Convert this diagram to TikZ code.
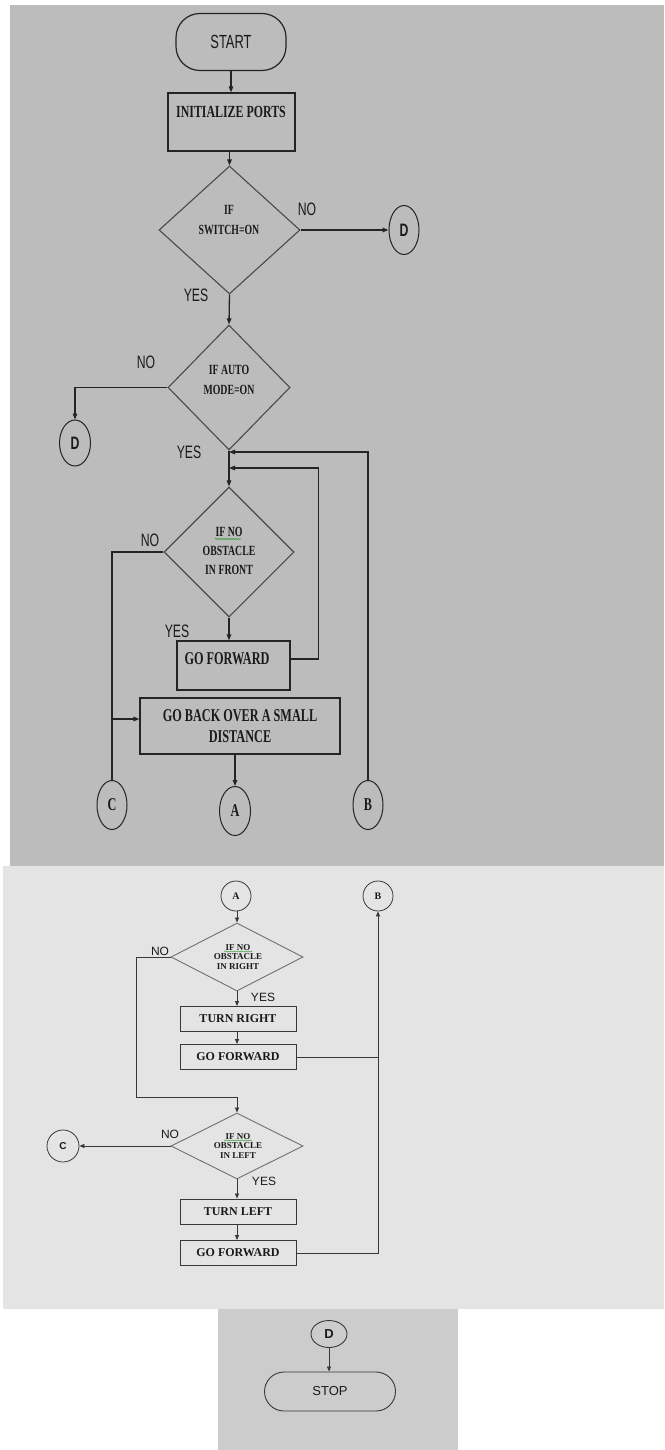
\documentclass[tikz,border=0pt]{standalone}
\usepackage{fontspec}
\setmainfont{Liberation Serif}
\setsansfont{Liberation Sans}
\usepackage{graphicx}
\usetikzlibrary{shapes.geometric,shapes.misc,arrows.meta,decorations.pathmorphing}
\definecolor{bgone}{HTML}{BCBCBC}
\definecolor{bgtwo}{HTML}{E4E4E4}
\definecolor{bgthree}{HTML}{CCCCCC}
\definecolor{lineone}{HTML}{242424}
\definecolor{diamone}{HTML}{4A4A4A}
\definecolor{txtone}{HTML}{1A1A1A}
\definecolor{linetwo}{HTML}{383838}
\definecolor{diamtwo}{HTML}{707070}
\definecolor{spell}{HTML}{3C9A3C}
\newcommand{\nar}[1]{\scalebox{0.68}[1]{#1}}
\begin{document}
\begin{tikzpicture}[x=1pt,y=-1pt,
  lone/.style={draw=lineone,line width=1.3pt},
  aone/.style={lone,-{Triangle[length=6pt,width=4.5pt]}},
  shone/.style={draw=lineone,line width=1.2pt,inner sep=0pt},
  dione/.style={diamond,draw=diamone,line width=1.1pt,inner sep=0pt},
  elone/.style={ellipse,draw=lineone,line width=1pt,inner sep=0pt,minimum width=30pt,minimum height=49pt,text=txtone},
  tone/.style={text=txtone,align=center,inner sep=0pt,font=\bfseries\fontsize{14}{20}\selectfont},
  tbig/.style={text=txtone,align=center,inner sep=0pt,font=\bfseries\fontsize{18}{21}\selectfont},
  lbone/.style={text=txtone,inner sep=0pt,font=\sffamily\fontsize{18}{20}\selectfont},
  ltwo/.style={draw=linetwo,line width=0.8pt},
  atwo/.style={ltwo,-{Triangle[length=5pt,width=4pt]}},
  boxtwo/.style={rectangle,draw=linetwo,line width=0.9pt,minimum width=116pt,minimum height=25pt,inner sep=0pt,font=\bfseries\fontsize{12}{14}\selectfont,text=txtone},
  ditwo/.style={diamond,draw=diamtwo,line width=0.9pt,inner sep=0pt,minimum width=132pt,minimum height=67pt},
  ttwo/.style={text=txtone,align=center,inner sep=0pt,font=\bfseries\fontsize{9}{9.5}\selectfont},
  eltwo/.style={circle,draw=linetwo,line width=0.8pt,inner sep=0pt,minimum size=27pt,text=txtone},
  lbtwo/.style={text=txtone,inner sep=0pt,font=\sffamily\fontsize{12}{14}\selectfont},
  squig/.style={draw=spell,line width=0.6pt,decorate,decoration={snake,amplitude=0.6pt,segment length=2.5pt}}
]
\useasboundingbox (0,0) rectangle (664,1450);
\fill[white] (0,0) rectangle (664,1450);
\fill[bgone] (10,5) rectangle (664,866);
\fill[bgtwo] (3,866) rectangle (664,1309);
\fill[bgthree] (218,1309) rectangle (458,1450);

% ---------- panel 1 ----------
\node[shone,rectangle,rounded corners=24pt,minimum width=110pt,minimum height=57pt,
      font=\sffamily\fontsize{19}{20}\selectfont,text=txtone] (start) at (231,42) {\nar{START}};
\node[shone,rectangle,minimum width=127pt,minimum height=58pt] (init) at (231.5,122) {};
\node[tbig,font=\bfseries\fontsize{17}{20}\selectfont] (initt) at (231,112) {\scalebox{0.7}[1]{INITIALIZE PORTS}};
\node[dione,minimum width=141pt,minimum height=128pt] (d1) at (229.5,230) {};
\node[tone] (d1t) at (229,220) {\scalebox{0.7}[1]{IF}\\\scalebox{0.7}[1]{SWITCH=ON}};
\node[lbone] (no1) at (307,209) {\nar{NO}};
\node[elone,font=\sffamily\bfseries\fontsize{18}{20}\selectfont] (dd1) at (404,230) {\nar{D}};
\node[lbone] (yes1) at (196,295) {\nar{YES}};

\node[dione,minimum width=122pt,minimum height=125pt] (d2) at (229,387.5) {};
\node[tone] (d2t) at (229,380) {\scalebox{0.7}[1]{IF AUTO}\\\scalebox{0.7}[1]{MODE=ON}};
\node[lbone] (no2) at (146,362) {\nar{NO}};
\node[elone,minimum width=31pt,minimum height=46pt,font=\sffamily\bfseries\fontsize{18}{20}\selectfont] (dd2) at (75,443) {\nar{D}};
\node[lbone] (yes2) at (189,452) {\nar{YES}};

\node[dione,minimum width=130pt,minimum height=130pt] (d3) at (229,552) {};
\node[tone,font=\bfseries\fontsize{14}{19}\selectfont] (d3t) at (229,551) {\scalebox{0.7}[1]{IF NO}\\\scalebox{0.7}[1]{OBSTACLE}\\\scalebox{0.7}[1]{IN FRONT}};
\node[lbone] (no3) at (150,540) {\nar{NO}};
\node[lbone] (yes3) at (177,631) {\nar{YES}};

\node[shone,rectangle,minimum width=113pt,minimum height=49pt] (gof1) at (233.5,665.5) {};
\node[tbig] (gof1t) at (227,659) {\nar{GO FORWARD}};
\node[shone,rectangle,minimum width=200pt,minimum height=56pt,tbig] (gob) at (240,726) {\nar{GO BACK OVER A SMALL}\\\nar{DISTANCE}};
\node[elone,font=\bfseries\fontsize{18}{20}\selectfont] (c1) at (112,805) {\nar{C}};
\node[elone,minimum width=31pt,font=\bfseries\fontsize{18}{20}\selectfont] (a1) at (235,811) {\nar{A}};
\node[elone,font=\bfseries\fontsize{18}{20}\selectfont] (b1) at (368,805) {\nar{B}};

\coordinate (jb) at (229,452);
\coordinate (jg) at (229,468);
\coordinate (jc) at (112,719);

\draw[aone] (start) -- (start |- init.north);
\draw[aone] (init.south -| d1.north) -- (d1.north);
\draw[aone] (d1.east) -- (dd1.west);
\draw[aone] (d1.south) -- (d2.north);
\draw[aone] (d2.west) -| (dd2.north);
\draw[lone] (d2.south) -- (jb);
\draw[aone] (jb) -- (d3.north);
\draw[aone] (b1.north) |- (jb);
\draw[aone] (gof1.east |- gof1t) -- ++(28,0) |- (jg);
\draw[aone] (d3.south) -- (d3.south |- gof1.north);
\draw[lone] (d3.west) -| (c1.north);
\draw[aone] (jc) -- (gob.west |- jc);
\draw[aone] (a1 |- gob.south) -- (a1.north);
\draw[squig] (215,539) -- (241,539);

% ---------- panel 2 ----------
\node[eltwo,minimum width=30pt,font=\bfseries\fontsize{10}{12}\selectfont] (a2) at (236,896) {A};
\node[eltwo,minimum width=30pt,font=\bfseries\fontsize{10}{12}\selectfont] (b2) at (378,896) {B};
\node[ditwo,minimum height=68pt] (d4) at (237,957) {};
\node[ttwo] (d4t) at (238,957) {IF NO\\OBSTACLE\\IN RIGHT};
\node[lbtwo] (no4) at (160,951) {NO};
\node[lbtwo] (yes4) at (263,997) {YES};
\node[boxtwo] (tr) at (238,1019) {TURN RIGHT};
\node[boxtwo] (gof2) at (238,1057) {GO FORWARD};
\node[ditwo,minimum height=66pt] (d5) at (237,1146) {};
\node[ttwo] (d5t) at (238,1146) {IF NO\\OBSTACLE\\IN LEFT};
\node[lbtwo] (no5) at (170,1134) {NO};
\node[lbtwo] (yes5) at (264,1181) {YES};
\node[eltwo,minimum width=32pt,minimum height=24pt,font=\sffamily\bfseries\fontsize{10}{12}\selectfont] (c2) at (63,1146) {C};
\node[boxtwo] (tl) at (238,1211.5) {TURN LEFT};
\node[boxtwo] (gof3) at (238,1253) {GO FORWARD};

\coordinate (jn) at (136,1097);

\draw[atwo] (a2.south -| d4.north) -- (d4.north);
\draw[atwo] (d4.south) -- (d4.south |- tr.north);
\draw[atwo] (tr.south -| d4.south) -- (d4.south |- gof2.north);
\draw[ltwo] (d4.west) -| (jn);
\draw[atwo] (jn) -| (d5.north);
\draw[atwo] (d5.west) -- (c2.east);
\draw[atwo] (d5.south) -- (d5.south |- tl.north);
\draw[atwo] (tl.south -| d5.south) -- (d5.south |- gof3.north);
\draw[ltwo] (gof2.east) -- (gof2.east -| b2.south);
\draw[atwo] (gof3.east) -| (b2.south);
\draw[squig,line width=0.5pt,decoration={snake,amplitude=0.5pt,segment length=2pt}] (224,951.5) -- (252,951.5);
\draw[squig,line width=0.5pt,decoration={snake,amplitude=0.5pt,segment length=2pt}] (224,1140.5) -- (252,1140.5);

% ---------- panel 3 ----------
\node[ellipse,draw=linetwo,line width=0.9pt,minimum width=36pt,minimum height=27pt,inner sep=0pt,
      font=\sffamily\bfseries\fontsize{13}{14}\selectfont,text=txtone] (d6) at (329,1334) {D};
\node[rounded rectangle,draw=linetwo,line width=0.9pt,minimum width=131pt,minimum height=39pt,inner sep=0pt,
      font=\sffamily\fontsize{13}{14}\selectfont,text=txtone] (stop) at (330,1391.5) {STOP};
\draw[atwo] (d6.south) -- (d6.south |- stop.north);
\end{tikzpicture}
\end{document}
